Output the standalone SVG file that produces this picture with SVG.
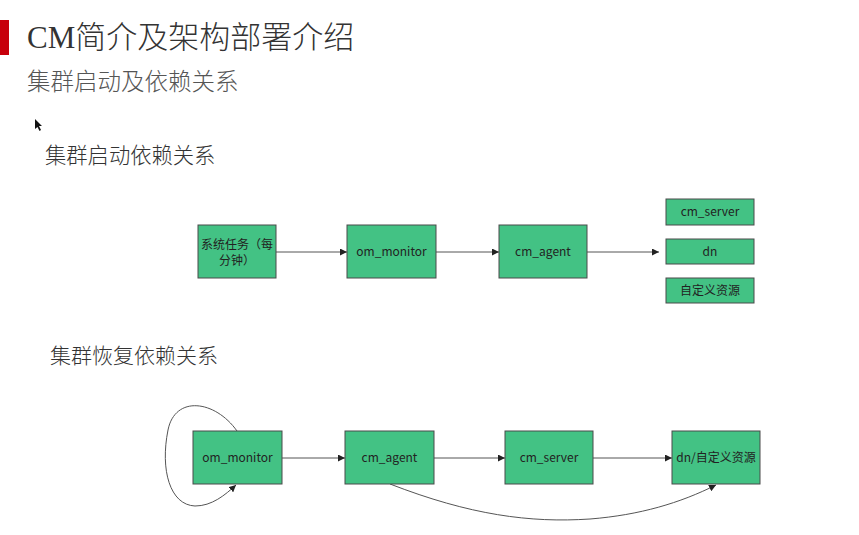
<svg xmlns="http://www.w3.org/2000/svg" width="859" height="535" viewBox="0 0 859 535">
<defs>
<style>
.n{fill:#43c284;stroke:#4a4a4a;stroke-width:1}
.t{font-family:"Noto Sans CJK SC","Noto Sans",sans-serif;font-size:12px;fill:#222;text-anchor:middle}
.c{fill:none;stroke:#555;stroke-width:1}
.h{font-family:"Liberation Serif","Noto Sans CJK SC",serif;fill:#333;font-weight:300}
</style>
<marker id="a" viewBox="0 0 10 10" refX="10" refY="5" markerWidth="7" markerHeight="7" orient="auto" markerUnits="userSpaceOnUse">
<path d="M0,0L10,5L0,10z" fill="#222"/>
</marker>
</defs>
<rect width="859" height="535" fill="#fff"/>
<rect x="0" y="20" width="9" height="35" fill="#c7000b"/>
<text class="h" x="27" y="48" font-size="31" fill="#111">CM简介及架构部署介绍</text>
<text class="h" x="27" y="90" font-size="23.5" style="fill:#555">集群启动及依赖关系</text>
<polygon points="35,119 35,129 37.5,127 39.5,131 41,130 39,126 42,126" fill="#111"/>
<text class="h" x="45" y="163" font-size="21.3">集群启动依赖关系</text>
<text class="h" x="50" y="363" font-size="21">集群恢复依赖关系</text>
<g id="connectors">
<line class="c" x1="276" y1="252" x2="347" y2="252" marker-end="url(#a)"/>
<line class="c" x1="436" y1="252" x2="499" y2="252" marker-end="url(#a)"/>
<line class="c" x1="587" y1="252" x2="659" y2="252" marker-end="url(#a)"/>
<line class="c" x1="282" y1="458" x2="345" y2="458" marker-end="url(#a)"/>
<line class="c" x1="434" y1="458" x2="505" y2="458" marker-end="url(#a)"/>
<line class="c" x1="593" y1="458" x2="672" y2="458" marker-end="url(#a)"/>
<path class="c" d="M237,431 C215,400 175,395 168,430 C160,470 170,505 195,506 C212,506 225,495 236,485" marker-end="url(#a)"/>
<path class="c" d="M390,484 C470,515 530,523 590,519 C640,515 680,503 716,485" marker-end="url(#a)"/>
</g>
<g id="n1"><rect class="n" x="198" y="225" width="78" height="53"/><text class="t" x="237" y="249">系统任务（每</text><text class="t" x="237" y="265">分钟）</text></g>
<g id="n2"><rect class="n" x="347" y="225" width="89" height="53"/><text class="t" x="391.5" y="256">om_monitor</text></g>
<g id="n3"><rect class="n" x="499" y="225" width="88" height="53"/><text class="t" x="543" y="256">cm_agent</text></g>
<g id="n4"><rect class="n" x="666" y="199" width="88" height="26"/><text class="t" x="710" y="216">cm_server</text></g>
<g id="n5"><rect class="n" x="666" y="239" width="88" height="25"/><text class="t" x="710" y="256">dn</text></g>
<g id="n6"><rect class="n" x="666" y="278" width="88" height="25"/><text class="t" x="710" y="295">自定义资源</text></g>
<g id="m1"><rect class="n" x="193" y="431" width="89" height="53"/><text class="t" x="237.5" y="462">om_monitor</text></g>
<g id="m2"><rect class="n" x="345" y="431" width="89" height="53"/><text class="t" x="389.5" y="462">cm_agent</text></g>
<g id="m3"><rect class="n" x="505" y="431" width="88" height="53"/><text class="t" x="549" y="462">cm_server</text></g>
<g id="m4"><rect class="n" x="672" y="431" width="88" height="53"/><text class="t" x="716" y="462">dn/自定义资源</text></g>
</svg>
